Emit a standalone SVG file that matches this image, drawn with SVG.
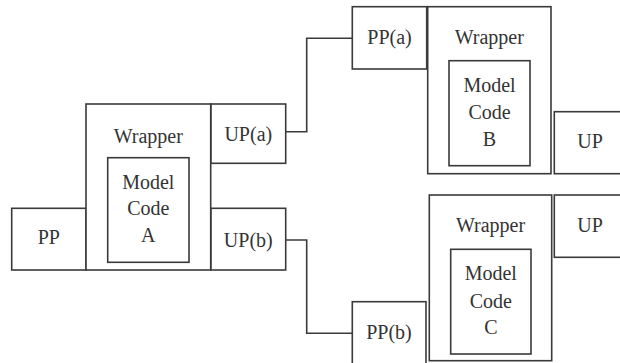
<svg xmlns="http://www.w3.org/2000/svg" width="620" height="363" viewBox="0 0 620 363">
<style>
.b{fill:#fff;stroke:#3a3a3a;stroke-width:1.6}
.t{font-family:'Liberation Serif','DejaVu Serif',serif;font-size:20px;fill:#333;text-anchor:middle}
.c{fill:none;stroke:#3a3a3a;stroke-width:1.6}
</style>
<rect width="620" height="363" fill="#fff"/>
<g id="connectors">
<polyline class="c" points="285.7,131.7 306.7,131.7 306.7,38.3 352.3,38.3"/>
<polyline class="c" points="285.7,240 306.7,240 306.7,333.3 352.3,333.3"/>
</g>
<g id="pp">
<rect class="b" x="11.7" y="208.3" width="74.3" height="61.7"/>
<text class="t" x="48.8" y="244">PP</text>
</g>
<g id="wrapperA">
<rect class="b" x="86" y="104" width="124.7" height="166"/>
<text class="t" x="148.3" y="143">Wrapper</text>
</g>
<g id="modelA">
<rect class="b" x="107.7" y="157.7" width="81.3" height="104.6"/>
<text class="t" x="148.3" y="189">Model</text>
<text class="t" x="148.3" y="215">Code</text>
<text class="t" x="148.3" y="241.5">A</text>
</g>
<g id="upA">
<rect class="b" x="211" y="104" width="74.7" height="59.3"/>
<text class="t" x="248.3" y="141">UP(a)</text>
</g>
<g id="upB">
<rect class="b" x="211" y="208.3" width="74.7" height="61.7"/>
<text class="t" x="248.3" y="246.5">UP(b)</text>
</g>
<g id="ppA">
<rect class="b" x="352.3" y="6.7" width="74.4" height="62.3"/>
<text class="t" x="389.5" y="43.5">PP(a)</text>
</g>
<g id="wrapperB">
<rect class="b" x="427.7" y="6.7" width="123.3" height="167"/>
<text class="t" x="489.3" y="43.5">Wrapper</text>
</g>
<g id="modelB">
<rect class="b" x="449" y="60.7" width="81" height="105"/>
<text class="t" x="489.5" y="92">Model</text>
<text class="t" x="489.5" y="119">Code</text>
<text class="t" x="489.5" y="146">B</text>
</g>
<g id="upTop">
<rect class="b" x="554.3" y="111.7" width="70" height="62"/>
<text class="t" x="590" y="148.3">UP</text>
</g>
<g id="wrapperC">
<rect class="b" x="429.3" y="195" width="122.4" height="165.7"/>
<text class="t" x="490.5" y="232.3">Wrapper</text>
</g>
<g id="modelC">
<rect class="b" x="450.7" y="249.3" width="80.3" height="104.7"/>
<text class="t" x="490.8" y="280">Model</text>
<text class="t" x="490.8" y="308">Code</text>
<text class="t" x="490.8" y="334">C</text>
</g>
<g id="upBottom">
<rect class="b" x="554.3" y="195" width="70" height="62.3"/>
<text class="t" x="590" y="232">UP</text>
</g>
<g id="ppB">
<rect class="b" x="352.3" y="301.7" width="73.7" height="66"/>
<text class="t" x="389" y="339">PP(b)</text>
</g>
</svg>
